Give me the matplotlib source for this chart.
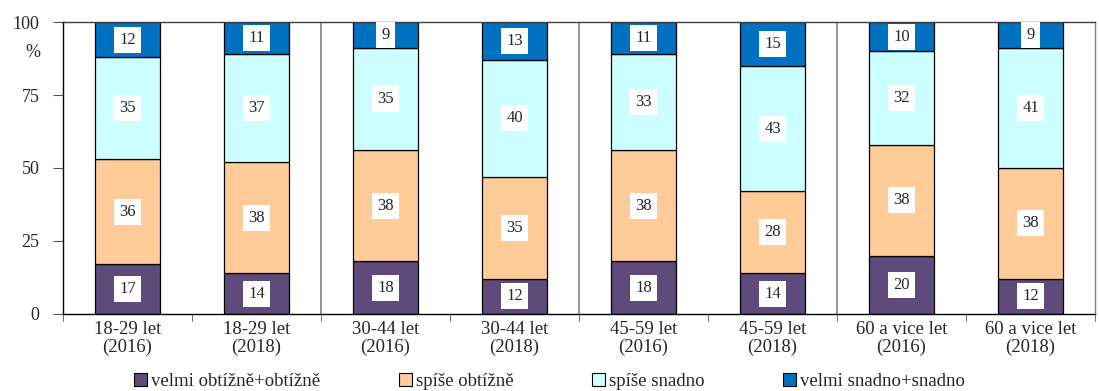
import numpy as np
import matplotlib.pyplot as plt
from matplotlib.patches import Patch

categories = ["18-29 let\n(2016)", "18-29 let\n(2018)", "30-44 let\n(2016)", "30-44 let\n(2018)",
              "45-59 let\n(2016)", "45-59 let\n(2018)", "60 a vice let\n(2016)", "60 a vice let\n(2018)"]
series_names = ["velmi obtížně+obtížně", "spíše obtížně", "spíše snadno", "velmi snadno+snadno"]
velmi_obtizne = [17, 14, 18, 12, 18, 14, 20, 12]
spise_obtizne = [36, 38, 38, 35, 38, 28, 38, 38]
spise_snadno = [35, 37, 35, 40, 33, 43, 32, 41]
velmi_snadno = [12, 11, 9, 13, 11, 15, 10, 9]
colors = ["#5F4B7B", "#FFCC99", "#CCFFFF", "#0070C0"]

plt.rcParams['font.family'] = ['Liberation Serif', 'DejaVu Serif']
txt = "#262626"

fig = plt.figure(figsize=(10.99, 3.91), dpi=100)
ax = fig.add_axes([0.0573, 0.197, 0.9391, 0.7467])

x = np.arange(len(categories))
bottom = np.zeros(len(categories))
for name, vals, c in zip(series_names, [velmi_obtizne, spise_obtizne, spise_snadno, velmi_snadno], colors):
    vals = np.array(vals)
    ax.bar(x, vals, 0.5, bottom=bottom, color=c, edgecolor="black", linewidth=0.9, label=name, zorder=2)
    for xi, b, v in zip(x, bottom, vals):
        ax.text(xi, b + v / 2, str(v), ha="center", va="center", fontsize=12, color=txt, zorder=4,
                bbox=dict(boxstyle="square,pad=0.3", facecolor="white", edgecolor="none"))
    bottom += vals

# gray lines between age groups
for sep in [1.5, 3.5, 5.5]:
    ax.axvline(sep, color="#808080", linewidth=1.2, zorder=1)

ax.set_xlim(-0.5, len(categories) - 0.5)
ax.set_ylim(0, 100)
ax.set_yticks([0, 25, 50, 75, 100])
ax.set_xticks(x)
ax.set_xticklabels(categories, fontsize=13.5, linespacing=1.05, color=txt)
ax.set_xticks(np.arange(-0.5, len(categories)), minor=True)
ax.tick_params(axis="x", which="major", length=0, pad=5)
ax.tick_params(axis="x", which="minor", length=5, direction="out", color="#555555")
ax.tick_params(axis="y", length=7, direction="out", labelsize=13, pad=10, color="#555555", labelcolor=txt)
for s in ax.spines.values():
    s.set_linewidth(1.0)
ax.spines["right"].set_color("#808080")
ax.spines["top"].set_color("#404040")

fig.text(0.030, 0.865, "%", fontsize=13, ha="center", va="center", color=txt)

handles = [Patch(facecolor=c, edgecolor="black", linewidth=0.8, label=n) for n, c in zip(series_names, colors)]
fig.legend(handles=handles, loc="lower center", bbox_to_anchor=(0.5, -0.04), ncol=4, frameon=False,
           fontsize=13.5, handlelength=0.7, handleheight=0.7, handletextpad=0.2, columnspacing=4.2,
           labelcolor=txt)

fig.savefig("out.png", dpi=100)
